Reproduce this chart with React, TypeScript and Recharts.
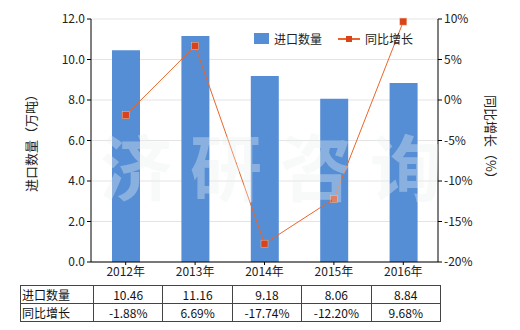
import React from 'react';
import {
  Bar,
  CartesianGrid,
  ComposedChart,
  Line,
  XAxis,
  YAxis,
} from 'recharts';

const years = ['2012年', '2013年', '2014年', '2015年', '2016年'];
const importQty = [10.46, 11.16, 9.18, 8.06, 8.84];
const yoyGrowth = [-1.88, 6.69, -17.74, -12.2, 9.68];
const leftTicks = [0, 2, 4, 6, 8, 10, 12];
const rightTicks = [-20, -15, -10, -5, 0, 5, 10];
const watermark = ['济', '研', '咨', '询'];

const data = years.map((year, i) => ({
  year,
  qty: importQty[i],
  yoy: yoyGrowth[i],
}));

const FONT = '"Noto Sans CJK SC", "Noto Sans", sans-serif';
const BAR_COLOR = '#558ED5';
const LINE_COLOR = '#E8662A';
const MARKER_COLOR = '#D9421A';

const PLOT_LEFT = 91;
const PLOT_RIGHT = 438;
const COL_W = (PLOT_RIGHT - PLOT_LEFT) / years.length;

const SquareDot = (props: any) => {
  const { cx, cy } = props;
  if (cx == null || cy == null) return null;
  return <rect x={cx - 3.5} y={cy - 3.5} width={7} height={7} fill={MARKER_COLOR} stroke="#F3B98F" strokeWidth={0.5} />;
};

const cellStyle: React.CSSProperties = {
  border: '1px solid #444',
  height: 17,
  padding: 0,
  textAlign: 'center',
  fontSize: 12,
  color: '#111',
};

export default function App() {
  return (
    <div style={{ position: 'absolute', left: 0, top: 0, width: 520, height: 330, background: '#fff', fontFamily: FONT }}>
      <ComposedChart
        width={520}
        height={330}
        data={data}
        margin={{ top: 19, right: 32, left: 41, bottom: 38 }}
      >
        <CartesianGrid vertical={false} stroke="#E4E4E4" yAxisId="left" />
        <XAxis
          dataKey="year"
          axisLine={{ stroke: '#000' }}
          tickLine={{ stroke: '#000' }}
          tickSize={3}
          height={30}
          tick={{ fill: '#222', fontSize: 12, fontFamily: FONT }}
          interval={0}
        />
        <YAxis
          yAxisId="left"
          domain={[0, 12]}
          ticks={leftTicks}
          tickFormatter={(v: number) => v.toFixed(1)}
          axisLine={{ stroke: '#000' }}
          tickLine={{ stroke: '#000' }}
          tickSize={4}
          width={50}
          tick={{ fill: '#222', fontSize: 12, fontFamily: FONT }}
          interval={0}
        />
        <YAxis
          yAxisId="right"
          orientation="right"
          domain={[-20, 10]}
          ticks={rightTicks}
          tickFormatter={(v: number) => `${v}%`}
          axisLine={{ stroke: '#000' }}
          tickLine={{ stroke: '#000' }}
          tickSize={4}
          width={50}
          tick={{ fill: '#222', fontSize: 12, fontFamily: FONT }}
          interval={0}
        />
        <Bar yAxisId="left" dataKey="qty" name="进口数量" fill={BAR_COLOR} barSize={28} isAnimationActive={false} />
        <Line
          yAxisId="right"
          dataKey="yoy"
          name="同比增长"
          stroke={LINE_COLOR}
          strokeWidth={1}
          dot={<SquareDot />}
          activeDot={false}
          isAnimationActive={false}
        />
      </ComposedChart>

      {/* watermark */}
      <div style={{ position: 'absolute', left: 0, top: 128, width: 520, pointerEvents: 'none' }}>
        {watermark.map((ch, i) => (
          <span
            key={ch}
            style={{
              position: 'absolute',
              left: 100 + i * 90,
              fontSize: 72,
              fontWeight: 700,
              color: 'rgba(235, 242, 240, 0.35)',
              lineHeight: 1,
            }}
          >
            {ch}
          </span>
        ))}
      </div>

      {/* legend */}
      <div
        style={{
          position: 'absolute',
          left: 254,
          top: 30,
          display: 'flex',
          alignItems: 'center',
          fontSize: 12,
          color: '#222',
        }}
      >
        <span style={{ width: 15, height: 11, background: BAR_COLOR, display: 'inline-block', marginRight: 5 }} />
        <span style={{ marginRight: 16 }}>进口数量</span>
        <svg width={22} height={10} style={{ marginRight: 5 }}>
          <line x1={0} y1={5} x2={22} y2={5} stroke={LINE_COLOR} strokeWidth={2} />
          <rect x={8} y={2} width={6} height={6} fill={MARKER_COLOR} />
        </svg>
        <span>同比增长</span>
      </div>

      {/* axis titles */}
      <div
        style={{
          position: 'absolute',
          left: 30,
          top: 140,
          transform: 'translate(-50%, -50%) rotate(-90deg)',
          fontSize: 13,
          color: '#222',
          whiteSpace: 'nowrap',
        }}
      >
        进口数量（万吨）
      </div>
      <div
        style={{
          position: 'absolute',
          left: 491,
          top: 140,
          transform: 'translate(-50%, -50%) rotate(90deg)',
          fontSize: 13,
          color: '#222',
          whiteSpace: 'nowrap',
        }}
      >
        同比增长（%）
      </div>

      {/* data table */}
      <table
        style={{
          position: 'absolute',
          left: 20,
          top: 285,
          borderCollapse: 'collapse',
          tableLayout: 'fixed',
          fontFamily: FONT,
        }}
      >
        <tbody>
          <tr>
            <td style={{ ...cellStyle, width: PLOT_LEFT - 20, textAlign: 'left', paddingLeft: 1 }}>进口数量</td>
            {importQty.map((v, i) => (
              <td key={years[i]} style={{ ...cellStyle, width: COL_W - 1 }}>
                {v.toFixed(2)}
              </td>
            ))}
          </tr>
          <tr>
            <td style={{ ...cellStyle, textAlign: 'left', paddingLeft: 1 }}>同比增长</td>
            {yoyGrowth.map((v, i) => (
              <td key={years[i]} style={cellStyle}>
                {v.toFixed(2)}%
              </td>
            ))}
          </tr>
        </tbody>
      </table>
    </div>
  );
}
